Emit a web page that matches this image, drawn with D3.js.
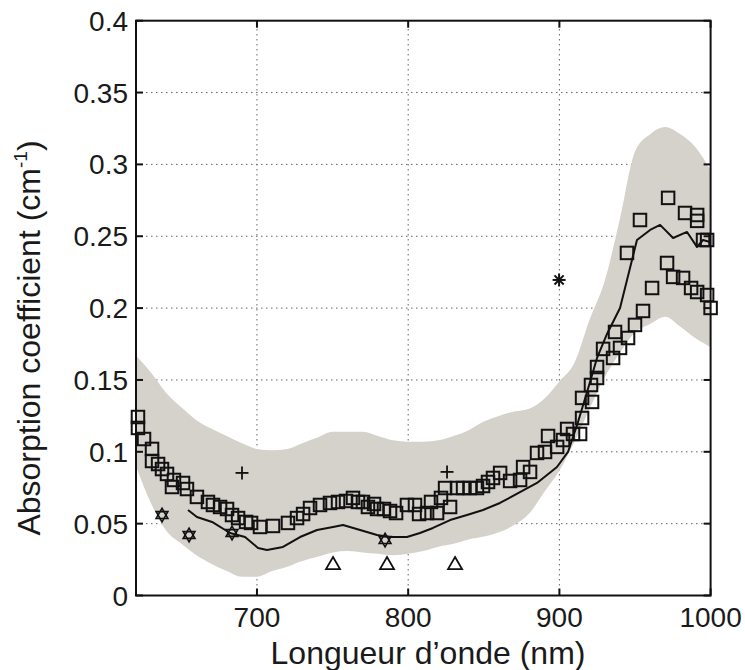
<!DOCTYPE html>
<html>
<head>
<meta charset="utf-8">
<script src="https://cdn.jsdelivr.net/npm/d3@7"></script>
<style>
  html, body { margin: 0; padding: 0; background: #fff; }
  svg { display: block; }
  text { font-family: "Liberation Sans", Arial, Helvetica, sans-serif; fill: #1a1a1a; }
</style>
</head>
<body>
<svg id="chart" width="745" height="670"></svg>
<script>
// ---------- data ----------
const xTicks = [700, 800, 900, 1000];
const xTickLabels = ["700", "800", "900", "1000"];
const yTicks = [0, 0.05, 0.1, 0.15, 0.2, 0.25, 0.3, 0.35, 0.4];
const yTickLabels = ["0", "0.05", "0.1", "0.15", "0.2", "0.25", "0.3", "0.35", "0.4"];
const xGrid = [700, 800, 900];
const yGrid = [0.05, 0.1, 0.15, 0.2, 0.25, 0.3, 0.35];

// shaded band (range)
const bandWl = [620,630,640,650,660,670,680,690,700,710,720,730,740,750,760,770,780,790,800,810,820,830,840,850,860,870,880,890,900,910,920,930,940,950,960,970,980,990,1000];
const bandUpper = [0.167,0.155,0.141,0.131,0.122,0.116,0.111,0.106,0.102,0.101,0.102,0.106,0.110,0.114,0.114,0.114,0.111,0.108,0.107,0.107,0.108,0.111,0.115,0.121,0.125,0.128,0.130,0.137,0.149,0.162,0.192,0.219,0.262,0.309,0.321,0.326,0.321,0.312,0.296];
const bandLower = [0.090,0.064,0.045,0.036,0.028,0.022,0.017,0.013,0.013,0.017,0.020,0.024,0.027,0.030,0.031,0.030,0.029,0.028,0.029,0.031,0.034,0.036,0.039,0.041,0.044,0.049,0.057,0.072,0.087,0.107,0.130,0.152,0.169,0.183,0.189,0.194,0.187,0.179,0.173];

// mean curve
const lineWl = [654.4,660.3,670.3,682.2,692.1,700.7,706.6,717.2,728.5,739.7,750.3,756.9,768.2,779.4,788.0,799.2,807.8,816.4,827.7,838.9,849.5,860.7,885.2,898.4,905.7,911.7,918.3,924.9,931.5,940.1,946.7,951.3,960.0,966.6,975.2,984.4,991.0,995.0,999.6];
const lineAbs = [0.0595,0.0546,0.0512,0.0435,0.0407,0.0331,0.0317,0.0338,0.0407,0.0456,0.0477,0.0491,0.0456,0.0421,0.0407,0.0407,0.0435,0.0470,0.0525,0.0560,0.0595,0.0644,0.0783,0.0894,0.0999,0.1187,0.1416,0.1653,0.1820,0.2001,0.2279,0.2474,0.2544,0.2579,0.2488,0.2530,0.2426,0.2474,0.2460];

// square markers
const sqWl = [621.3,621.3,625.3,630.6,630.6,634.6,637.2,640.5,645.1,643.8,651.1,653.7,660.3,667.6,670.9,675.6,680.2,683.5,687.5,692.8,696.1,702.0,710.6,720.5,726.5,730.5,735.1,741.7,748.3,753.6,758.9,763.5,766.8,770.1,773.4,777.4,779.4,784.0,788.0,792.0,799.2,804.5,807.2,812.5,815.1,819.1,821.7,824.4,827.7,832.3,836.3,840.9,845.5,849.5,852.8,856.1,860.8,867.4,874.0,876.0,880.6,885.2,890.5,892.5,898.5,902.4,905.1,909.0,913.7,915.0,915.0,921.6,920.9,924.9,924.9,928.9,935.5,936.8,940.1,945.4,950.0,955.3,961.3,944.7,953.3,971.9,983.1,991.1,991.1,995.0,971.2,975.2,981.8,987.1,991.1,997.7,1000.0,997.7];
const sqAbs = [0.1242,0.1166,0.1089,0.1020,0.0936,0.0915,0.0880,0.0846,0.0804,0.0755,0.0783,0.0741,0.0686,0.0651,0.0630,0.0616,0.0602,0.0560,0.0539,0.0512,0.0505,0.0477,0.0484,0.0505,0.0539,0.0567,0.0609,0.0630,0.0644,0.0651,0.0658,0.0679,0.0651,0.0651,0.0616,0.0637,0.0602,0.0602,0.0588,0.0574,0.0630,0.0630,0.0567,0.0574,0.0651,0.0574,0.0679,0.0748,0.0616,0.0748,0.0748,0.0748,0.0748,0.0762,0.0790,0.0818,0.0853,0.0797,0.0804,0.0894,0.0860,0.0992,0.0999,0.1110,0.1034,0.1082,0.1159,0.1124,0.1124,0.1235,0.1375,0.1347,0.1465,0.1590,0.1514,0.1716,0.1653,0.1834,0.1723,0.1792,0.1883,0.1980,0.2140,0.2384,0.2613,0.2767,0.2662,0.2648,0.2607,0.2474,0.2314,0.2217,0.2210,0.2140,0.2112,0.2091,0.2001,0.2474];

// other markers
const plusWl = [690.1, 825.7];
const plusAbs = [0.0853, 0.0860];
const hexWl = [637.2, 655.1, 683.5, 784.7];
const hexAbs = [0.0560, 0.0421, 0.0435, 0.0386];
const triWl = [750.3, 786.0, 831.0];
const triAbs = [0.0212, 0.0212, 0.0212];
const starWl = [899.8];
const starAbs = [0.2196];

const xLabel = "Longueur d\u2019onde (nm)";
const yLabelMain = "Absorption coefficient (cm";
const yLabelSup = "-1";
const yLabelEnd = ")";

// ---------- drawing ----------
const svg = d3.select("#chart");
const x = d3.scaleLinear().domain([620, 1000]).range([136, 710.6]);
const y = d3.scaleLinear().domain([0, 0.4]).range([595.5, 20.7]);
const [x0, x1] = x.range();
const [yb, yt] = y.range();

// grid
const grid = svg.append("g").attr("stroke", "#666").attr("stroke-width", 1).attr("stroke-dasharray", "1.5,3.5");
grid.selectAll("line.v").data(xGrid).join("line").attr("class", "v")
  .attr("x1", d => x(d)).attr("x2", d => x(d)).attr("y1", yb).attr("y2", yt);
grid.selectAll("line.h").data(yGrid).join("line").attr("class", "h")
  .attr("x1", x0).attr("x2", x1).attr("y1", d => y(d)).attr("y2", d => y(d));

// band
const bandData = bandWl.map((w, i) => ({ w, lo: bandLower[i], hi: bandUpper[i] }));
svg.append("path").datum(bandData)
  .attr("fill", "#d5d2cc")
  .attr("d", d3.area().x(d => x(d.w)).y0(d => y(d.lo)).y1(d => y(d.hi)).curve(d3.curveMonotoneX));

// mean line
const lineData = lineWl.map((w, i) => ({ w, v: lineAbs[i] }));
svg.append("path").datum(lineData)
  .attr("fill", "none").attr("stroke", "#111").attr("stroke-width", 2).attr("stroke-linejoin", "round")
  .attr("d", d3.line().x(d => x(d.w)).y(d => y(d.v)));

// squares
const sq = 12.5;
svg.append("g").selectAll("rect").data(sqWl.map((w, i) => ({ w, v: sqAbs[i] }))).join("rect")
  .attr("x", d => x(d.w) - sq / 2).attr("y", d => y(d.v) - sq / 2)
  .attr("width", sq).attr("height", sq)
  .attr("fill", "none").attr("stroke", "#111").attr("stroke-width", 2);

// plus markers
const pg = svg.append("g").attr("stroke", "#111").attr("stroke-width", 1.8);
plusWl.forEach((w, i) => {
  const cx = x(w), cy = y(plusAbs[i]), r = 6.5;
  pg.append("line").attr("x1", cx - r).attr("x2", cx + r).attr("y1", cy).attr("y2", cy);
  pg.append("line").attr("x1", cx).attr("x2", cx).attr("y1", cy - r).attr("y2", cy + r);
});

// hexagram markers
const triSym = d3.symbol().type(d3.symbolTriangle).size(60);
const hg = svg.append("g").attr("fill", "none").attr("stroke", "#111").attr("stroke-width", 1.6);
hexWl.forEach((w, i) => {
  const cx = x(w), cy = y(hexAbs[i]);
  hg.append("path").attr("d", triSym()).attr("transform", `translate(${cx},${cy})`);
  hg.append("path").attr("d", triSym()).attr("transform", `translate(${cx},${cy}) rotate(180)`);
});

// triangle markers
const triBig = d3.symbol().type(d3.symbolTriangle).size(85);
svg.append("g").selectAll("path").data(triWl.map((w, i) => ({ w, v: triAbs[i] }))).join("path")
  .attr("d", triBig())
  .attr("transform", d => `translate(${x(d.w)},${y(d.v)})`)
  .attr("fill", "none").attr("stroke", "#111").attr("stroke-width", 1.8);

// asterisk
const ag = svg.append("g").attr("stroke", "#111").attr("stroke-width", 2);
starWl.forEach((w, i) => {
  const cx = x(w), cy = y(starAbs[i]), r = 6.5;
  [0, 45, 90, 135].forEach(a => {
    const rad = a * Math.PI / 180;
    ag.append("line")
      .attr("x1", cx - r * Math.cos(rad)).attr("y1", cy - r * Math.sin(rad))
      .attr("x2", cx + r * Math.cos(rad)).attr("y2", cy + r * Math.sin(rad));
  });
});

// axes box
const axisG = svg.append("g").attr("stroke", "#111").attr("stroke-width", 2).attr("fill", "none");
axisG.append("rect").attr("x", x0).attr("y", yt).attr("width", x1 - x0).attr("height", yb - yt);
const tl = 7;
axisG.selectAll("line.xb").data(xTicks).join("line").attr("class", "xb")
  .attr("x1", d => x(d)).attr("x2", d => x(d)).attr("y1", yb).attr("y2", yb - tl);
axisG.selectAll("line.xt").data(xTicks).join("line").attr("class", "xt")
  .attr("x1", d => x(d)).attr("x2", d => x(d)).attr("y1", yt).attr("y2", yt + tl);
axisG.selectAll("line.yl").data(yTicks).join("line").attr("class", "yl")
  .attr("x1", x0).attr("x2", x0 + tl).attr("y1", d => y(d)).attr("y2", d => y(d));
axisG.selectAll("line.yr").data(yTicks).join("line").attr("class", "yr")
  .attr("x1", x1).attr("x2", x1 - tl).attr("y1", d => y(d)).attr("y2", d => y(d));

// tick labels
svg.append("g").selectAll("text").data(yTicks).join("text")
  .attr("x", x0 - 8).attr("y", d => y(d)).attr("dy", "0.36em")
  .attr("text-anchor", "end").attr("font-size", 28)
  .text((d, i) => yTickLabels[i]);
svg.append("g").selectAll("text").data(xTicks).join("text")
  .attr("x", d => x(d)).attr("y", 627)
  .attr("text-anchor", "middle").attr("font-size", 28)
  .text((d, i) => xTickLabels[i]);

// axis labels
svg.append("text").attr("x", 428).attr("y", 664).attr("text-anchor", "middle")
  .attr("font-size", 32).text(xLabel);
const yl = svg.append("text").attr("transform", "translate(40,338) rotate(-90)")
  .attr("text-anchor", "middle").attr("font-size", 32);
yl.append("tspan").text(yLabelMain);
yl.append("tspan").attr("font-size", 19).attr("dy", -13).text(yLabelSup);
yl.append("tspan").attr("dy", 13).text(yLabelEnd);
</script>
</body>
</html>
